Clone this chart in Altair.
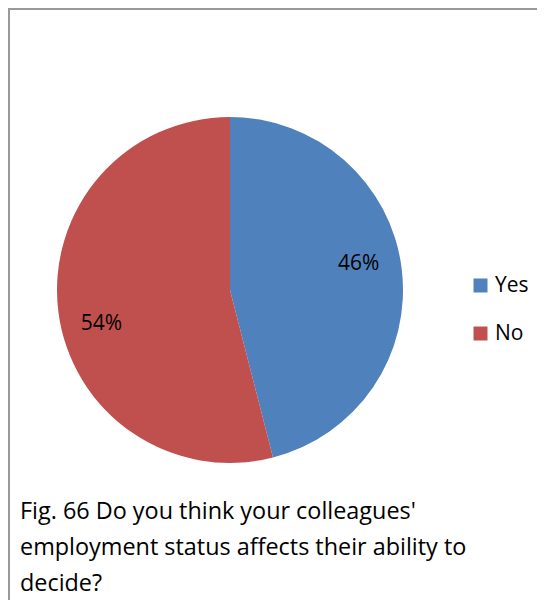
import altair as alt
import pandas as pd

categories = ["Yes", "No"]
values = [46, 54]
labels = ["46%", "54%"]
colors = ["#4F81BD", "#C0504D"]
caption_lines = [
    "Fig. 66 Do you think your colleagues'",
    "employment status affects their ability to",
    "decide?",
]

df = pd.DataFrame({"category": categories, "value": values, "label": labels,
                   "order": list(range(len(categories)))})

W, H = 529, 592
CX, CY = 222, 282
FONT = "Open Sans"

color = alt.Color("category:N",
                  scale=alt.Scale(domain=categories, range=colors),
                  legend=alt.Legend(title=None, orient="none", legendX=462, legendY=267,
                                    symbolType="square", symbolSize=196, symbolStrokeWidth=0,
                                    labelFontSize=21, labelFont=FONT, labelColor="#000000",
                                    rowPadding=26, labelOffset=4))

base = alt.Chart(df).encode(
    theta=alt.Theta("value:Q", stack=True),
    order=alt.Order("order:Q"),
)

pie = base.mark_arc(outerRadius=173, strokeWidth=0).encode(
    color=color, x=alt.value(CX), y=alt.value(CY))

text = base.mark_text(radius=132, thetaOffset=-0.1, dy=4, fontSize=21, font=FONT,
                      color="#000000").encode(
    text="label:N", x=alt.value(CX), y=alt.value(CY))

cap = alt.Chart(pd.DataFrame({"t": ["\n".join(caption_lines)]})).mark_text(
    align="left", baseline="alphabetic", fontSize=23.4, font=FONT, lineBreak="\n",
    lineHeight=36, color="#000000").encode(text="t:N", x=alt.value(12), y=alt.value(511))

left = alt.Chart(df).mark_rule(color="#999999", strokeWidth=2).encode(
    x=alt.value(1), y=alt.value(0), y2=alt.value(H))
top = alt.Chart(df).mark_rule(color="#999999", strokeWidth=2).encode(
    x=alt.value(0), x2=alt.value(W), y=alt.value(1))

chart = alt.layer(pie, text, cap, left, top).properties(
    width=W, height=H, autosize=alt.AutoSizeParams(type="none"), padding=0
).configure_view(strokeWidth=0).configure(background="#ffffff")

chart.save("out.html", embed_options={"renderer": "svg", "actions": False})
